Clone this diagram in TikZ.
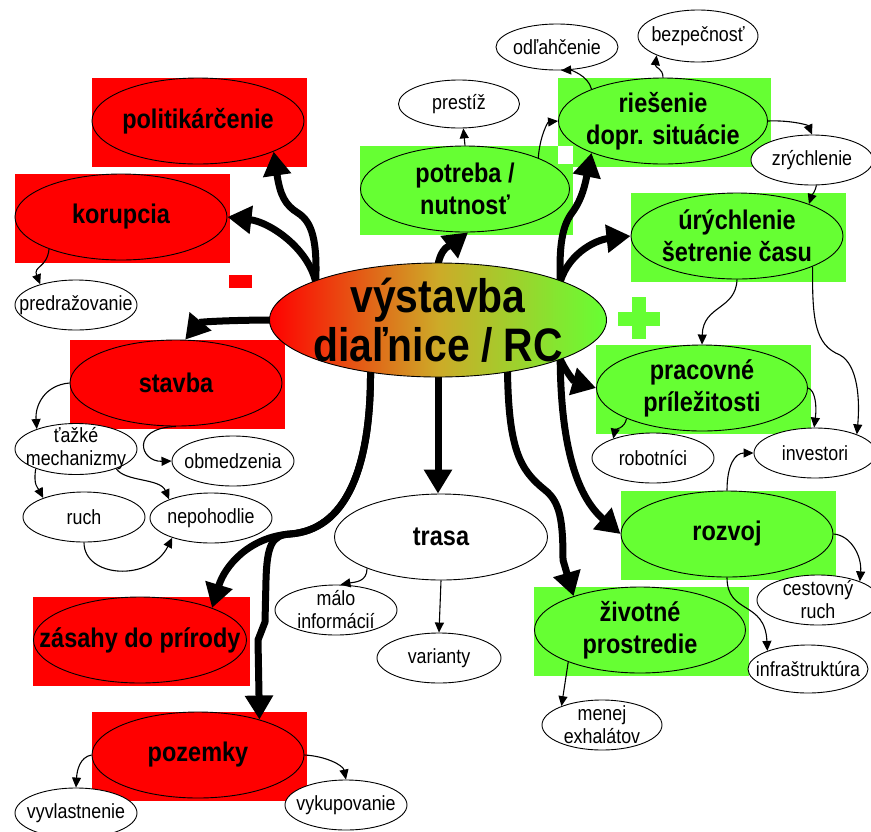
\documentclass[tikz,border=0pt]{standalone}
\usepackage{fontspec}
\setmainfont{Liberation Sans}[FakeStretch=0.87]
\usepackage{tikz}
\usetikzlibrary{arrows.meta, shapes.geometric, backgrounds}

\definecolor{cervena}{RGB}{255,0,0}
\definecolor{zelena}{RGB}{102,255,51}
\definecolor{prechod}{RGB}{205,170,40}

\newcommand{\malypis}{\fontsize{20.5}{23}\selectfont}
\newcommand{\velkypis}{\fontsize{27}{32}\selectfont\bfseries}
\newcommand{\hlavnypis}{\fontsize{47}{49}\selectfont\bfseries}

\pgfdeclarelayer{popredie}
\pgfsetlayers{background,main,popredie}

\begin{document}
\begin{tikzpicture}[x=1pt,y=-1pt,>=Stealth]

% Stily
\tikzset{
  tema/.style={ellipse, draw, line width=0.9pt, inner xsep=-40pt, inner ysep=-15pt,
    align=center, minimum width=212pt, minimum height=86pt, font=\velkypis},
  zaporne/.style={tema, fill=cervena},
  kladne/.style={tema, fill=zelena},
  bublina/.style={ellipse, draw, line width=0.9pt, fill=white, inner xsep=-40pt, inner ysep=-15pt,
    align=center, minimum width=122pt, minimum height=50pt, font=\malypis},
  hruba/.style={line width=7pt, line join=round, shorten <=-8pt, -{Triangle[length=24pt,width=27pt]}},
  tenka/.style={line width=1.1pt, -{Triangle[length=10pt,width=9pt]}}
}

\useasboundingbox (0,0) rectangle (871,831);

% --- Stred ---
\begin{pgfonlayer}{popredie}
\node[ellipse, draw, line width=0.9pt, inner xsep=-40pt, inner ysep=-15pt, align=center,
  minimum width=337pt, minimum height=114pt, font=\hlavnypis,
  left color=cervena, right color=zelena, middle color=prechod] (c) at (438,320) {výstavba\\diaľnice / RC};
\end{pgfonlayer}

% --- Negativa (cervene) ---
\node[zaporne] (pol) at (198,121) {politikárčenie};
\node[zaporne] (kor) at (121,217) {korupcia};
\node[zaporne] (stav) at (176,383) {stavba};
\node[zaporne, minimum width=213pt] (zas) at (140,640) {zásahy do prírody};
\node[zaporne] (poz) at (198,755) {pozemky};

\node[bublina] (pred) at (76,305) {predražovanie};
\node[bublina, minimum height=51pt] (tazke) at (76,449) {ťažké\\mechanizmy};
\node[bublina] (obm) at (233,461) {obmedzenia};
\node[bublina] (ruch) at (84,517) {ruch};
\node[bublina] (nep) at (211,518) {nepohodlie};
\node[bublina] (vyv) at (76,813) {vyvlastnenie};
\node[bublina] (vyk) at (346,805) {vykupovanie};

% --- Trasa ---
\node[tema, fill=white, minimum width=213pt] (trasa) at (441,537) {trasa};
\node[bublina] (malo) at (336,610) {málo\\informácií};
\node[bublina, minimum width=124pt] (var) at (439,658) {varianty};

% --- Pozitiva (zelene) ---
\node[kladne, minimum width=209pt] (pot) at (465,189) {potreba /\\nutnosť};
\node[kladne, minimum width=209pt] (ries) at (663,121) {riešenie\\dopr. situácie};
\node[kladne] (ury) at (737,236) {úrýchlenie\\šetrenie času};
\node[kladne, minimum width=211pt] (prac) at (702,388) {pracovné\\príležitosti};
\node[kladne] (rozv) at (727,534) {rozvoj};
\node[kladne, minimum width=211pt] (ziv) at (640,630) {životné\\prostredie};

\node[bublina, minimum width=121pt, minimum height=48pt] (pres) at (459,104) {prestíž};
\node[bublina, minimum height=46pt] (odl) at (557,47) {odľahčenie};
\node[bublina, minimum width=120pt, minimum height=52pt] (bez) at (698,36) {bezpečnosť};
\node[bublina] (zry) at (812,160) {zrýchlenie};
\node[bublina] (rob) at (653,458) {robotníci};
\node[bublina] (inv) at (815,453) {investori};
\node[bublina] (cest) at (818,600) {cestovný\\ruch};
\node[bublina, minimum width=120pt, minimum height=48pt] (infra) at (808,669) {infraštruktúra};
\node[bublina, minimum width=120pt] (men) at (602,725) {menej\\exhalátov};

% Obdlzniky za temami
\begin{scope}[on background layer]
  \foreach \n/\f in {pol/cervena, kor/cervena, stav/cervena, zas/cervena, poz/cervena,
      ries/zelena, pot/zelena, ury/zelena, prac/zelena, rozv/zelena, ziv/zelena}
    \fill[\f] (\n.west |- \n.north) rectangle ([shift={(3,3)}]\n.east |- \n.south);
  \fill[white] (ries.west |- pot.north) rectangle ([shift={(3,0)}]pot.east |- ries.south);
\end{scope}

% Znamienka
\fill[cervena] (229,275) rectangle (252,288);
\fill[zelena] (632,297) rectangle (646,339);
\fill[zelena] (618,312) rectangle (660,326);

% --- Hrube sipky zo stredu ---
\draw[hruba] (c.162) .. controls (318,240) and (312,222) .. (298,213)
  .. controls (285,205) and (280,195) .. (pol.338);
\draw[hruba] (c.162) .. controls (312,250) and (270,222) .. (kor.east);
\draw[hruba] (c.180) .. controls (230,320) and (200,322) .. (stav.78);
\draw[hruba] (c.218) .. controls (372,470) and (345,530) .. (290,534)
  .. controls (250,537) and (225,565) .. (zas.24);
\draw[hruba] (c.218) .. controls (372,470) and (345,530) .. (290,534)
  .. controls (272,535) and (267,545) .. (266,580) -- (265,622) -- (258,640) -- (poz.30);
\draw[hruba] (c.south) -- (c.south |- trasa.north);
\draw[hruba] (c.323) .. controls (508,450) and (520,470) .. (545,490)
  .. controls (560,502) and (563,520) .. (563,560) -- (ziv.153);
\draw[hruba] (c.342) .. controls (560,440) and (575,495) .. (rozv.west);
\draw[hruba] (c.342) .. controls (565,372) and (575,382) .. (prac.west);
\draw[hruba] (c.18) .. controls (565,255) and (595,240) .. (ury.west);
\draw[hruba] (c.18) .. controls (558,235) and (565,222) .. (574,210)
  .. controls (582,198) and (585,185) .. (ries.204);
\draw[hruba] (c.north) .. controls (440,245) and (452,245) .. (pot.274);

% --- Tenke sipky ---
\draw[tenka] (kor.204) .. controls (47,268) and (33,266) .. (pred.150);
\draw[tenka] (stav.west) .. controls (45,385) and (35,405) .. (tazke.153);
\draw[tenka] (stav.south) .. controls (130,428) and (140,462) .. (obm.west);
\draw[tenka] (tazke.206) .. controls (33,485) and (38,488) .. (ruch.155);
\draw[tenka] (tazke.334) .. controls (125,482) and (160,478) .. (nep.156);
\draw[tenka] (ruch.south) .. controls (84,578) and (150,582) .. (nep.207);
\draw[tenka] (poz.west) .. controls (80,757) and (77,770) .. (vyv.north);
\draw[tenka] (poz.east) .. controls (325,756) and (343,765) .. (vyk.north);
\draw[tenka] (trasa.203) .. controls (367,582) and (355,582) .. (malo.80);
\draw[tenka] (trasa.south) -- (var.north);
\draw[tenka] (ziv.204) -- (men.155);
\draw[tenka] (rozv.north) .. controls (727,465) and (735,453) .. (inv.west);
\draw[tenka] (rozv.east) .. controls (850,535) and (862,555) .. (cest.24);
\draw[tenka] (rozv.south) .. controls (727,615) and (765,600) .. (infra.156);
\draw[tenka] (prac.202) .. controls (625,428) and (615,430) .. (rob.154);
\draw[tenka] (prac.east) .. controls (815,390) and (817,405) .. (inv.92);
\draw[tenka] (ury.338) .. controls (812,320) and (815,345) .. (840,355)
  .. controls (858,365) and (860,400) .. (inv.24);
\draw[tenka] (ury.south) .. controls (736,310) and (703,305) .. (prac.north);
\draw[tenka] (zry.280) .. controls (815,192) and (812,195) .. (ury.24);
\draw[tenka] (ries.east) .. controls (790,120) and (808,125) .. (zry.north);
\draw[tenka] (ries.north) .. controls (663,68) and (655,68) .. (bez.205);
\draw[tenka] (ries.156) .. controls (588,75) and (570,70) .. (odl.280);
\draw[tenka] (pot.23) .. controls (540,135) and (548,122) .. (ries.west);
\draw[tenka] (pot.north) -- (pres.280);

\end{tikzpicture}
\end{document}
